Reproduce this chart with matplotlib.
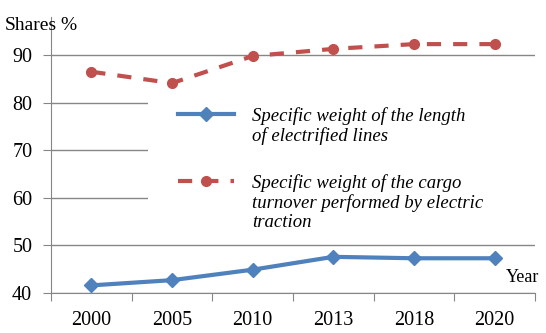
import numpy as np
import matplotlib
matplotlib.use('Agg')
import matplotlib.pyplot as plt
from matplotlib.patches import Rectangle

years = ['2000', '2005', '2010', '2013', '2018', '2020']
lines_share = [41.6, 42.7, 44.9, 47.6, 47.3, 47.3]
cargo_share = [86.5, 84.1, 89.8, 91.3, 92.3, 92.3]
y_ticks = [40, 50, 60, 70, 80, 90]

label_lines = 'Specific weight of the length\nof electrified lines'
label_cargo = ('Specific weight of the cargo\nturnover performed by electric\n'
               'traction')

plt.rcParams['font.family'] = ['Liberation Serif', 'DejaVu Serif']

blue = '#4F81BD'
red = '#C0504D'
grey = '#868686'
W, H = 546, 333

fig = plt.figure(figsize=(W / 100, H / 100), dpi=100)
ax = fig.add_axes([51 / W, 1 - 293 / H, (535 - 51) / W, (293 - 17) / H])

x = np.arange(len(years))
ln1, = ax.plot(x, lines_share, color=blue, lw=3, marker='D', ms=7,
               label=label_lines, zorder=3)
ln2, = ax.plot(x, cargo_share, color=red, lw=3, marker='o', ms=7,
               dashes=(3.4, 2.9), label=label_cargo, zorder=3)

ax.set_xlim(-0.5, len(years) - 0.5)
ax.set_ylim(40, 98)
ax.set_yticks(y_ticks)
ax.yaxis.grid(True, color=grey, lw=1)
ax.set_axisbelow(True)

# ticks between categories, labels centred
ax.set_xticks(np.arange(len(years) + 1) - 0.5)
ax.set_xticklabels([])
ax.set_xticks(x, minor=True)
ax.set_xticklabels(years, minor=True)
ax.tick_params(axis='x', which='major', length=6, color=grey, direction='out')
ax.tick_params(axis='x', which='minor', length=0, pad=13, labelsize=14.5)
ax.tick_params(axis='y', length=6, color=grey, pad=7.5, labelsize=14.5)

for side in ['top', 'right']:
    ax.spines[side].set_visible(False)
for side in ['left', 'bottom']:
    ax.spines[side].set_color(grey)

# white legend background hiding the gridlines
ax.add_patch(Rectangle((148 / W, 1 - 243 / H), (W - 148) / W, (243 - 95) / H,
                       transform=fig.transFigure, facecolor='white',
                       edgecolor='none', zorder=1, clip_on=False))

leg = ax.legend(
    handles=[ln1, ln2],
    loc='upper left',
    bbox_to_anchor=(178 / W, 1 - 107 / H),
    bbox_transform=fig.transFigure,
    frameon=False,
    borderpad=0,
    borderaxespad=0,
    handlelength=3.0,
    handletextpad=0.95,
    labelspacing=1.55,
    prop={'size': 13.5, 'style': 'italic'})
leg.set_zorder(4)
for t in leg.get_texts():
    t.set_linespacing(1.17)
for col in leg._legend_handle_box.get_children():
    for item in col.get_children():
        item.align = 'top'

fig.text(5 / W, 1 - 26 / H, 'Shares', fontsize=14, va='center', ha='left')
fig.text(60 / W, 1 - 26 / H, '%', fontsize=14, va='center', ha='left')
fig.text(539 / W, 1 - 278 / H, 'Year', fontsize=13, va='center', ha='right')

fig.savefig('out.png', dpi=100)
